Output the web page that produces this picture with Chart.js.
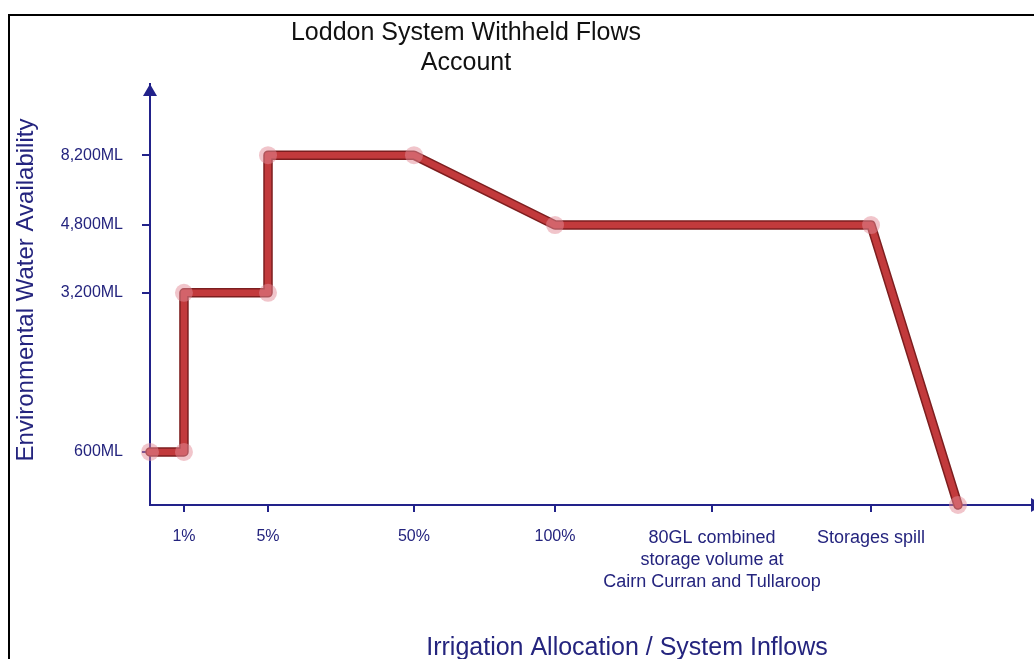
<!DOCTYPE html>
<html>
<head>
<meta charset="utf-8">
<title>Loddon System Withheld Flows Account</title>
<script src="https://cdn.jsdelivr.net/npm/chart.js@4.4.1/dist/chart.umd.min.js"></script>
<style>
  html, body { margin: 0; padding: 0; background: #fff; }
  #wrap { position: relative; width: 1034px; height: 659px; }
</style>
</head>
<body>
<div id="wrap"><canvas id="chart"></canvas></div>
<script>
// stages along the horizontal axis, position = index
const stageLabels = ['', '1%', '5%', '50%', '100%', ['80GL combined', 'storage volume at', 'Cairn Curran and Tullaroop'], 'Storages spill', ''];
const stageTicks = [1, 2, 3, 4, 5, 6];

// withheld flows account: stage index -> ML available
const pathStage = [0, 1, 1, 2, 2, 3, 4, 6, 7];
const pathML = [600, 600, 3200, 3200, 8200, 8200, 4800, 4800, 0];
const mlTicks = [600, 3200, 4800, 8200];

const NAVY = '#24247e';
const AXIS = '#22228a';
const FONT = "'Liberation Sans', Arial, sans-serif";

// schematic axes: value -> fraction of axis length, interpolated between stops
const axisStops = {
  x: { at: [0, 1, 2, 3, 4, 5, 6, 7, 8], frac: [0, 0.0385, 0.1338, 0.2993, 0.4592, 0.6372, 0.8175, 0.9161, 1] },
  y: { at: [0, 600, 3200, 4800, 8200, 10000], frac: [0, 0.126, 0.504, 0.665, 0.831, 1] }
};

function lerp(v, from, to) {
  if (v <= from[0]) return to[0];
  for (let i = 1; i < from.length; i++) {
    if (v <= from[i]) return to[i - 1] + (v - from[i - 1]) / (from[i] - from[i - 1]) * (to[i] - to[i - 1]);
  }
  return to[to.length - 1];
}

class SchematicScale extends Chart.LinearScale {
  static id = 'schematic';
  static defaults = {};
  getPixelForValue(value) {
    if (value === null || isNaN(value)) return NaN;
    const s = axisStops[this.id];
    return this.getPixelForDecimal(lerp(value, s.at, s.frac));
  }
  getValueForPixel(pixel) {
    const s = axisStops[this.id];
    return lerp(this.getDecimalForPixel(pixel), s.frac, s.at);
  }
}
Chart.register(SchematicScale);

const points = pathStage.map((s, i) => ({ x: s, y: pathML[i] }));

// frame, arrowheads and titles
const decor = {
  id: 'decor',
  beforeDraw(chart) {
    const c = chart.ctx;
    c.save();
    c.fillStyle = '#fff';
    c.fillRect(0, 0, chart.width, chart.height);
    c.strokeStyle = '#000';
    c.lineWidth = 2;
    c.beginPath();
    c.moveTo(9, chart.height);
    c.lineTo(9, 15);
    c.lineTo(chart.width, 15);
    c.stroke();
    c.restore();
  },
  afterDraw(chart) {
    const c = chart.ctx;
    const a = chart.chartArea;
    c.save();
    c.fillStyle = AXIS;
    c.beginPath();
    c.moveTo(a.left, a.top);
    c.lineTo(a.left - 7, a.top + 12);
    c.lineTo(a.left + 7, a.top + 12);
    c.closePath();
    c.fill();
    c.beginPath();
    c.moveTo(a.right + 11, a.bottom);
    c.lineTo(a.right - 1, a.bottom - 7);
    c.lineTo(a.right - 1, a.bottom + 7);
    c.closePath();
    c.fill();

    c.textAlign = 'center';
    c.textBaseline = 'middle';
    c.fillStyle = '#111';
    c.font = '25px ' + FONT;
    c.fillText('Loddon System Withheld Flows', 466, 33);
    c.fillText('Account', 466, 63);

    c.fillStyle = NAVY;
    c.fillText('Irrigation Allocation / System Inflows', 627, 648);
    c.font = '24px ' + FONT;
    c.translate(26, 290);
    c.rotate(-Math.PI / 2);
    c.fillText('Environmental Water Availability', 0, 0);
    c.restore();
  }
};

new Chart(document.getElementById('chart'), {
  type: 'line',
  data: {
    datasets: [
      { data: points, showLine: false, pointRadius: 9, pointBackgroundColor: 'rgba(228,140,152,0.5)', pointBorderWidth: 0, clip: false },
      { data: points, borderColor: '#c23a3c', borderWidth: 6.5, pointRadius: 0, borderJoinStyle: 'round', borderCapStyle: 'round', clip: false },
      { data: points, borderColor: '#7d1e1f', borderWidth: 9.5, pointRadius: 0, borderJoinStyle: 'round', borderCapStyle: 'round', clip: false }
    ]
  },
  options: {
    responsive: true,
    maintainAspectRatio: false,
    animation: false,
    layout: { autoPadding: false, padding: { top: 84, right: 2, bottom: 0, left: 0 } },
    plugins: { legend: { display: false }, tooltip: { enabled: false } },
    scales: {
      x: {
        type: 'schematic', min: 0, max: 8,
        afterFit: s => { s.height = 154; s.paddingLeft = 0; s.paddingRight = 0; },
        afterBuildTicks: s => { s.ticks = stageTicks.map(v => ({ value: v })); },
        border: { color: AXIS, width: 2 },
        grid: { drawOnChartArea: false, color: AXIS, lineWidth: 2, tickLength: 7 },
        ticks: {
          autoSkip: false, maxRotation: 0, padding: 15, color: NAVY,
          font: ctx => ({ family: FONT, size: ctx.tick && ctx.tick.value >= 5 ? 18 : 16, lineHeight: 1.22 }),
          callback: v => stageLabels[v]
        }
      },
      y: {
        type: 'schematic', min: 0, max: 10000,
        afterFit: s => { s.width = 150; s.paddingTop = 0; s.paddingBottom = 0; },
        afterBuildTicks: s => { s.ticks = mlTicks.map(v => ({ value: v })); },
        border: { color: AXIS, width: 2 },
        grid: { drawOnChartArea: false, color: AXIS, lineWidth: 2, tickLength: 8 },
        ticks: {
          padding: 19, color: NAVY,
          font: { family: FONT, size: 16 },
          callback: v => v.toLocaleString('en-US') + 'ML'
        }
      }
    }
  },
  plugins: [decor]
});
</script>
</body>
</html>
